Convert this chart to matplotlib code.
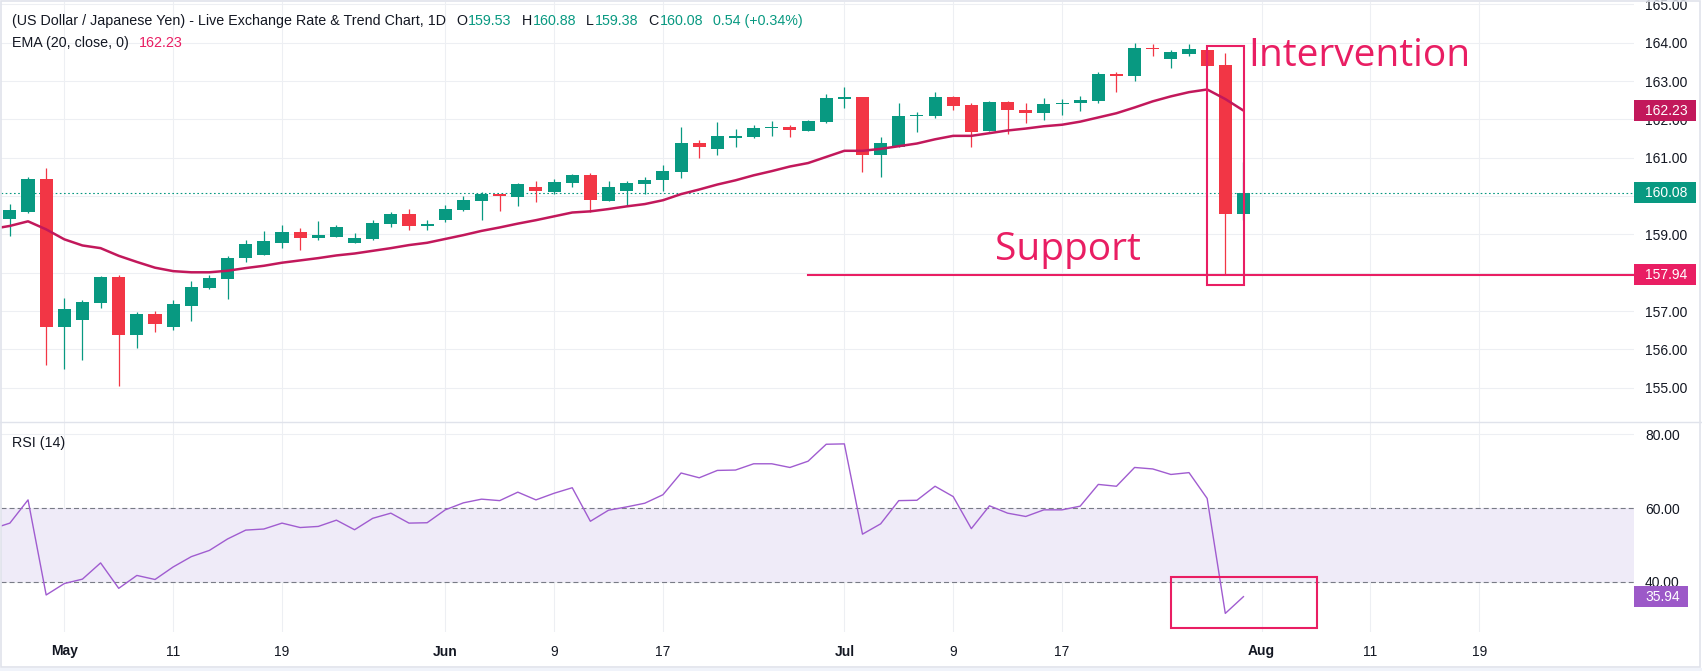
import numpy as np
import matplotlib.pyplot as plt
import matplotlib.transforms as mtransforms
from matplotlib.patches import Rectangle
from matplotlib.lines import Line2D

plt.rcParams['font.family'] = ['Liberation Sans', 'DejaVu Sans']
plt.rcParams['lines.scale_dashes'] = False

# ---- data (daily USD/JPY candles, bar index 0..68) ----
opens = [159.40, 159.59, 160.44, 156.57, 156.77, 157.22, 157.89, 156.38, 156.92, 156.57,
         157.14, 157.61, 157.84, 158.37, 158.47, 158.78, 159.06, 158.91, 158.94, 158.78,
         158.89, 159.28, 159.53, 159.23, 159.375, 159.64, 159.87, 160.05, 159.97, 160.23,
         160.11, 160.34, 160.55, 159.87, 160.13, 160.31, 160.42, 160.63, 161.38, 161.23,
         161.52, 161.54, 161.78, 161.80, 161.70, 161.93, 162.53, 162.58, 161.07, 161.28,
         162.09, 162.09, 162.58, 162.37, 161.70, 162.45, 162.24, 162.17, 162.40, 162.43,
         162.48, 163.18, 163.13, 163.86, 163.57, 163.70, 163.81, 163.42, 159.53]
highs = [159.79, 160.50, 160.73, 157.33, 157.30, 157.91, 157.94, 156.97, 157.00, 157.29,
         157.78, 157.94, 158.44, 158.85, 159.09, 159.24, 159.17, 159.35, 159.24, 159.04,
         159.38, 159.58, 159.66, 159.38, 159.77, 160.00, 160.11, 160.05, 160.34, 160.39,
         160.44, 160.57, 160.60, 160.39, 160.39, 160.50, 160.81, 161.80, 161.46, 161.93,
         161.75, 161.85, 161.96, 161.85, 161.98, 162.66, 162.84, 162.58, 161.54, 162.43,
         162.19, 162.71, 162.61, 162.43, 162.48, 162.48, 162.43, 162.56, 162.53, 162.61,
         163.23, 163.23, 163.99, 163.97, 163.81, 163.97, 163.81, 163.72, 160.88]
lows = [158.96, 159.55, 155.58, 155.49, 155.72, 157.09, 155.05, 156.04, 156.44, 156.51,
        156.75, 157.57, 157.32, 158.29, 158.47, 158.65, 158.60, 158.84, 158.94, 158.78,
        158.86, 159.20, 159.12, 159.12, 159.31, 159.61, 159.37, 159.61, 159.74, 159.84,
        160.05, 160.24, 159.58, 159.87, 159.74, 160.05, 160.13, 160.47, 160.99, 161.07,
        161.28, 161.51, 161.57, 161.54, 161.70, 161.91, 162.30, 160.63, 160.50, 161.28,
        161.67, 162.04, 162.24, 161.28, 161.70, 161.62, 161.90, 161.98, 162.11, 162.22,
        162.43, 162.71, 163.00, 163.65, 163.34, 163.65, 163.39, 157.94, 159.38]
closes = [159.64, 160.44, 156.57, 157.05, 157.24, 157.89, 156.38, 156.92, 156.67, 157.18,
          157.63, 157.86, 158.38, 158.75, 158.83, 159.06, 158.91, 158.98, 159.19, 158.90,
          159.30, 159.53, 159.23, 159.27, 159.66, 159.90, 160.05, 160.00, 160.31, 160.13,
          160.37, 160.55, 159.90, 160.23, 160.34, 160.42, 160.65, 161.38, 161.28, 161.57,
          161.57, 161.77, 161.80, 161.72, 161.96, 162.56, 162.58, 161.07, 161.38, 162.09,
          162.11, 162.58, 162.35, 161.67, 162.45, 162.24, 162.17, 162.40, 162.41, 162.51,
          163.18, 163.13, 163.86, 163.83, 163.76, 163.83, 163.40, 159.53, 160.08]

# EMA(20) and RSI(14), starting one bar before the window (index -1)
ema20 = [159.14,
         159.22, 159.34, 159.13, 158.87, 158.71, 158.64, 158.44, 158.28, 158.13, 158.04,
         158.01, 158.01, 158.05, 158.12, 158.18, 158.26, 158.32, 158.38, 158.45, 158.50,
         158.57, 158.64, 158.72, 158.78, 158.88, 158.98, 159.09, 159.18, 159.28, 159.37,
         159.47, 159.57, 159.60, 159.66, 159.73, 159.79, 159.89, 160.05, 160.17, 160.30,
         160.41, 160.54, 160.65, 160.77, 160.86, 161.02, 161.18, 161.18, 161.23, 161.30,
         161.37, 161.48, 161.57, 161.57, 161.64, 161.71, 161.76, 161.82, 161.86, 161.94,
         162.05, 162.16, 162.31, 162.47, 162.60, 162.71, 162.78, 162.53, 162.23]
rsi14 = [54.3,
         55.9, 62.2, 36.4, 39.5, 40.7, 45.1, 38.2, 41.7, 40.6, 44.0,
         46.8, 48.5, 51.6, 54.0, 54.3, 55.9, 54.7, 55.0, 56.7, 54.1,
         57.2, 58.6, 55.9, 56.0, 59.5, 61.4, 62.4, 62.0, 64.3, 62.2,
         64.0, 65.5, 56.4, 59.4, 60.3, 61.3, 63.6, 69.5, 68.2, 70.2,
         70.3, 72.0, 72.0, 71.0, 72.7, 77.3, 77.4, 52.9, 55.7, 62.0,
         62.1, 65.9, 63.1, 54.4, 60.6, 58.6, 57.7, 59.5, 59.5, 60.5,
         66.4, 65.9, 71.0, 70.6, 69.1, 69.6, 62.6, 31.4, 35.94]

date_ticks = [3, 9, 15, 24, 30, 36, 46, 52, 58, 69, 75, 81]
date_labels = ['May', '11', '19', 'Jun', '9', '17', 'Jul', '9', '17', 'Aug', '11', '19']
months = ['May', 'Jun', 'Jul', 'Aug']
price_ticks = [155, 156, 157, 158, 159, 160, 161, 162, 163, 164, 165]
rsi_ticks = [40, 60, 80]

last_close = 160.08
last_ema = 162.23
last_rsi = 35.94
support = 157.94
support_from = 44
interv_box = (66.0, 157.68, 68.05, 163.92)
rsi_box = (64.0, 27.57, 72.07, 41.36)

GREEN = '#089981'
RED = '#F23645'
PINK = '#E91E63'
EMA_C = '#C2185B'
RSI_C = '#A05CD0'
TXT = '#131722'
GRID = '#EDEFF3'

W, H = 1702, 671
fig = plt.figure(figsize=(W / 100, H / 100), dpi=100)
fig.patch.set_facecolor('white')


def fx(px):
    return px / W


def fy(py):
    return 1 - py / H


ax = fig.add_axes([fx(1), fy(421.7), fx(1634) - fx(1), fy(2) - fy(421.7)])
ax_rsi = fig.add_axes([fx(1), fy(632), fx(1634) - fx(1), fy(421.7) - fy(632)], sharex=ax)

x = np.arange(len(closes))
o = np.array(opens)
c = np.array(closes)
cols = np.where(c >= o, GREEN, RED)

# candles
ax.vlines(x, lows, highs, colors=cols, lw=0.9, zorder=3)
ax.bar(x, np.maximum(np.abs(c - o), 0.025), bottom=np.minimum(o, c), width=0.72,
       color=cols, linewidth=0, zorder=4)

# EMA
xe = np.arange(-1, len(ema20) - 1)
ax.plot(xe, ema20, color=EMA_C, lw=1.8, zorder=5, solid_capstyle='round')

# last price dotted line
ax.axhline(last_close, color=GREEN, lw=0.8, ls=(0, (1.2, 1.8)), zorder=2)

# support line and intervention box
ax.plot([support_from, 95], [support, support], color=PINK, lw=1.5, zorder=6)
ax.add_patch(Rectangle((interv_box[0], interv_box[1]), interv_box[2] - interv_box[0],
                       interv_box[3] - interv_box[1], fill=False, ec=PINK, lw=1.5, zorder=6))
ax.text(68.25, 163.40, 'Intervention', color=PINK, fontsize=28, family='Open Sans',
        ha='left', va='baseline', zorder=7)
ax.text(54.3, 158.32, 'Support', color=PINK, fontsize=28, family='Open Sans',
        ha='left', va='baseline', zorder=7)

ax.set_xlim(-0.49, 89.53)
ax.set_ylim(154.112, 165.062)
ax.set_yticks(price_ticks)
# labels sitting under the value tags are hidden by them in the original
ax.set_yticklabels(['' if v in (158, 160) else f'{v:.2f}' for v in price_ticks])
ax.yaxis.tick_right()
ax.tick_params(axis='y', length=0, pad=7.9, labelsize=10, labelcolor=TXT)
ax.tick_params(axis='x', length=0, labelbottom=False)
ax.grid(True, color=GRID, lw=0.8, zorder=0)
ax.set_axisbelow(True)

# RSI panel
ax_rsi.axhspan(40, 60, color='#EFEBF8', lw=0, zorder=1)
ax_rsi.axhline(60, color='#787B86', lw=0.8, ls=(0, (3.6, 2.2)), zorder=2)
ax_rsi.axhline(40, color='#787B86', lw=0.8, ls=(0, (3.6, 2.2)), zorder=2)
ax_rsi.plot(xe, rsi14, color=RSI_C, lw=1.0, zorder=4)
ax_rsi.add_patch(Rectangle((rsi_box[0], rsi_box[1]), rsi_box[2] - rsi_box[0],
                           rsi_box[3] - rsi_box[1], fill=False, ec=PINK, lw=1.5, zorder=6))
ax_rsi.set_ylim(26.35, 83.42)
ax_rsi.set_yticks(rsi_ticks)
ax_rsi.set_yticklabels([f'{v:.2f}' for v in rsi_ticks])
ax_rsi.yaxis.tick_right()
ax_rsi.tick_params(axis='y', length=0, pad=7.9, labelsize=10, labelcolor=TXT)
ax_rsi.set_xticks(date_ticks)
ax_rsi.set_xticklabels(date_labels)
ax_rsi.tick_params(axis='x', length=0, pad=9, labelsize=10, labelcolor=TXT)
for lab in ax_rsi.get_xticklabels():
    if lab.get_text() in months:
        lab.set_fontweight('bold')
ax_rsi.grid(True, color=GRID, lw=0.8, zorder=0)
ax_rsi.set_axisbelow(True)

for a in (ax, ax_rsi):
    for s in a.spines.values():
        s.set_visible(False)


# price tags on the right scale
def value_tag(a, y, text, bg, w_px, h_px):
    blend = mtransforms.blended_transform_factory(a.transAxes, a.transData)
    tr = mtransforms.Affine2D() + mtransforms.ScaledTranslation(1.0, y, blend)
    a.add_patch(Rectangle((0, -h_px / 2), w_px, h_px, transform=tr, color=bg,
                          lw=0, clip_on=False, zorder=20))
    a.annotate(text, xy=(1.0, y), xycoords=blend, xytext=(7.9, 0), textcoords='offset points',
               color='white', fontsize=10, ha='left', va='center', zorder=21,
               annotation_clip=False)


value_tag(ax, last_ema, f'{last_ema:.2f}', EMA_C, 62, 21)
value_tag(ax, last_close, f'{last_close:.2f}', GREEN, 62, 21)
value_tag(ax, support, f'{support:.2f}', PINK, 62, 21)
value_tag(ax_rsi, last_rsi, f'{last_rsi:.2f}', '#9C59C8', 54, 21)


# legend rows
def text_run(x_px, y_px, runs, size=10.3):
    t = fig.text(fx(x_px), fy(y_px), runs[0][0], color=runs[0][1], fontsize=size,
                 ha='left', va='center')
    for s, col, gap in runs[1:]:
        t = ax.annotate(s, xy=(1, 0.5), xycoords=t, xytext=(gap * 0.72, 0),
                        textcoords='offset points', color=col, fontsize=size,
                        ha='left', va='center', annotation_clip=False)


text_run(12, 21, [
    ('(US Dollar / Japanese Yen) - Live Exchange Rate & Trend Chart, 1D', TXT),
    ('O', TXT, 10), ('159.53', GREEN, 1),
    ('H', TXT, 10), ('160.88', GREEN, 1),
    ('L', TXT, 10), ('159.38', GREEN, 1),
    ('C', TXT, 10), ('160.08', GREEN, 1),
    ('0.54 (+0.34%)', GREEN, 10),
])
text_run(12, 43, [('EMA (20, close, 0)', TXT), (f'{last_ema:.2f}', PINK, 10)])
text_run(12, 443, [('RSI (14)', TXT), (f'{last_rsi:.2f}', RSI_C, 10)])

# panel separator and outer frame
fig.add_artist(Line2D([0, 1], [fy(421.7), fy(421.7)], color='#E0E3EB', lw=1.0))
fig.add_artist(Rectangle((fx(0.5), fy(667)), fx(1700) - fx(0.5), fy(0.5) - fy(667),
                         fill=False, ec='#E0E3EB', lw=1.2))
fig.add_artist(Rectangle((0, 0), 1, fy(667.5), color='#F0F3FA', lw=0))

fig.savefig('out.png', dpi=100, facecolor='white')
